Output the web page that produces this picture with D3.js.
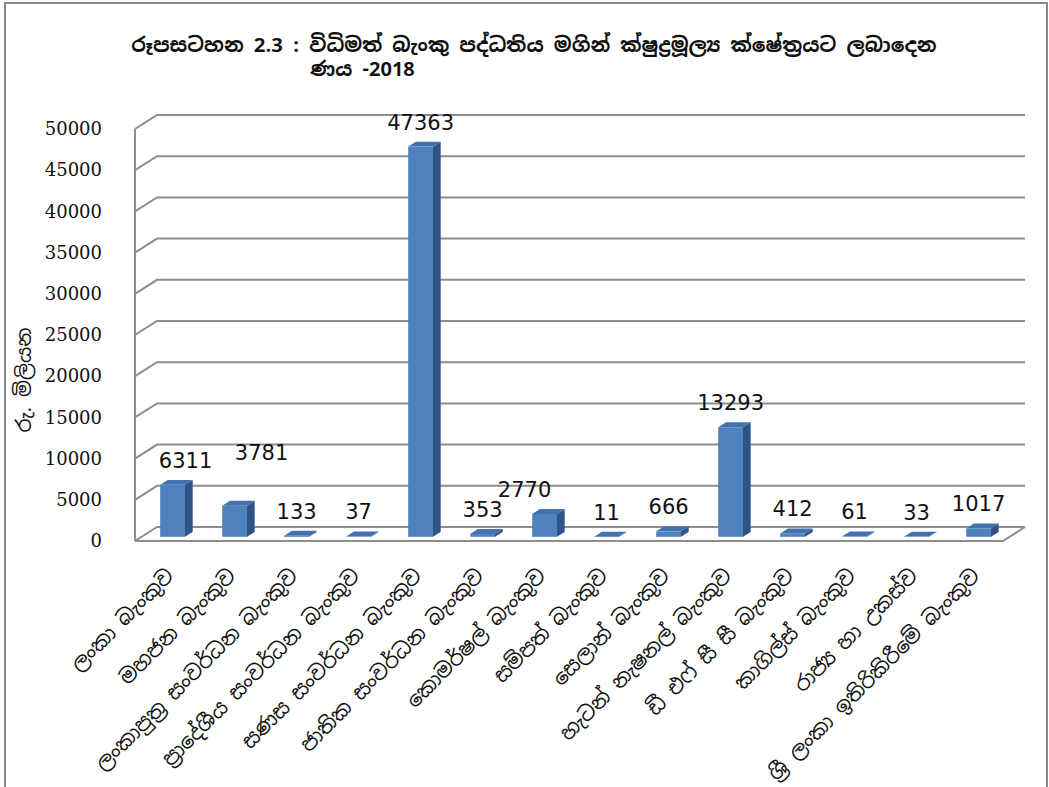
<!DOCTYPE html>
<html lang="si">
<head>
<meta charset="UTF-8">
<title>chart</title>
<script src="https://cdn.jsdelivr.net/npm/d3@7/dist/d3.min.js"></script>
<style>
  body { margin: 0; background: #fff; }
  svg { display: block; }
</style>
</head>
<body>
<script>
    // chart data
    var banks = ["ලංකා බැංකුව", "මහජන බැංකුව", "ලංකාපුත්‍ර සංවර්ධන බැංකුව",
        "ප්‍රාදේශීය සංවර්ධන බැංකුව", "සණස සංවර්ධන බැංකුව", "ජාතික සංවර්ධන බැංකුව",
        "කොමර්ෂල් බැංකුව", "සම්පත් බැංකුව", "සෙලාන් බැංකුව", "හැටන් නැෂනල් බැංකුව",
        "ඩී එෆ් සී සී බැංකුව", "කාගිල්ස් බැංකුව", "රාජ්‍ය හා උකස්ව",
        "ශ්‍රී ලංකා ඉතිරිකිරීමේ බැංකුව"];
    var loans = [6311, 3781, 133, 37, 47363, 353, 2770, 11, 666, 13293, 412, 61, 33, 1017];
    var yTicks = [0, 5000, 10000, 15000, 20000, 25000, 30000, 35000, 40000, 45000, 50000];
    var titleLines = ["රූපසටහන 2.3 : විධිමත් බැංකු පද්ධතිය මගින් ක්ෂුද්‍රමූල්‍ය ක්ෂේත්‍රයට ලබාදෙන", "ණය -2018"];
    var yTitle = "රු. මිලියන";

    var sinhala = "'Iskoola Pota', 'Noto Sans Sinhala', 'Noto Serif Sinhala', 'DejaVu Sans', sans-serif";
    var W = 1049, H = 787;
    var depthX = 22, depthY = -14;   // 3d depth of the floor
    var f0 = 0.3, f1 = 0.65;         // bar front / back depth fraction

    var svg = d3.select("body").append("svg")
        .attr("width", W)
        .attr("height", H);

    // outer frame
    svg.append("rect")
        .attr("x", 5).attr("y", 3)
        .attr("width", 1042).attr("height", 800)
        .attr("fill", "none")
        .attr("stroke", "#8a8a8a")
        .attr("stroke-width", 2);

    var x = d3.scaleBand()
        .domain(banks)
        .range([135, 1003])
        .paddingInner(0.6)
        .paddingOuter(0.3);

    var y = d3.scaleLinear()
        .domain([0, 50000])
        .range([541, 129]);

    var grid = svg.append("g")
        .attr("stroke", "#8e8e8e")
        .attr("stroke-width", 2)
        .attr("fill", "none");

    // side wall + back wall gridlines
    grid.selectAll("path.grid")
        .data(yTicks)
        .enter()
        .append("path")
        .attr("class", "grid")
        .attr("d", function (d) {
            return "M" + x.range()[0] + "," + y(d) +
                "L" + (x.range()[0] + depthX) + "," + (y(d) + depthY) +
                "H" + (x.range()[1] + depthX);
        });

    // left vertical edge
    grid.append("path")
        .attr("d", "M" + x.range()[0] + "," + y(0) + "V" + y(50000));

    // floor
    grid.append("path")
        .attr("d", "M" + x.range()[0] + "," + y(0) +
            "H" + x.range()[1] +
            "L" + (x.range()[1] + depthX) + "," + (y(0) + depthY));

    // bars
    var bw = x.bandwidth();
    var ox = depthX * f0, oy = depthY * f0;
    var sx = depthX * (f1 - f0), sy = depthY * (f1 - f0);

    var bars = svg.selectAll("g.bar")
        .data(loans)
        .enter()
        .append("g")
        .attr("class", "bar")
        .attr("transform", function (d, i) {
            return "translate(" + (x(banks[i]) + ox) + "," + oy + ")";
        });

    bars.append("path")   // top
        .attr("fill", "#4273b0")
        .attr("d", function (d) {
            var t = y(d);
            return "M0," + t + "L" + sx + "," + (t + sy) + "H" + (bw + sx) + "L" + bw + "," + t + "Z";
        });

    bars.append("path")   // side
        .attr("fill", "#2f5587")
        .attr("d", function (d) {
            var t = y(d), b = y(0);
            return "M" + bw + "," + t + "L" + (bw + sx) + "," + (t + sy) +
                "V" + (b + sy) + "L" + bw + "," + b + "Z";
        });

    bars.append("rect")   // front
        .attr("fill", "#4f81bd")
        .attr("x", 0)
        .attr("width", bw)
        .attr("y", function (d) { return y(d); })
        .attr("height", function (d) { return y(0) - y(d); });

    // value labels (a few were nudged by hand in the original)
    var nudge = {0: [13, 0], 1: [27, -29], 6: [-20, 0]};
    svg.selectAll("text.val")
        .data(loans)
        .enter()
        .append("text")
        .attr("class", "val")
        .attr("x", function (d, i) {
            var n = nudge[i] || [0, 0];
            return x(banks[i]) + bw / 2 + ox + n[0];
        })
        .attr("y", function (d, i) {
            var n = nudge[i] || [0, 0];
            return y(d) + oy - 17 + n[1];
        })
        .attr("text-anchor", "middle")
        .style("font-family", "'DejaVu Sans', sans-serif")
        .style("font-size", "21px")
        .attr("fill", "#111")
        .text(function (d) { return d; });

    // y axis labels
    var yAxis = d3.axisLeft(y)
        .tickValues(yTicks)
        .tickSize(0)
        .tickPadding(33)
        .tickFormat(d3.format("d"));

    var ya = svg.append("g")
        .attr("transform", "translate(" + x.range()[0] + ",0)")
        .call(yAxis);
    ya.select(".domain").remove();
    ya.selectAll("text")
        .style("font-family", "'DejaVu Serif', serif")
        .style("font-size", "18px")
        .attr("fill", "#111");

    // x axis labels
    svg.selectAll("text.cat")
        .data(banks)
        .enter()
        .append("text")
        .attr("class", "cat")
        .attr("transform", function (d) {
            return "translate(" + (x(d) + bw / 2 + 4) + ",572) rotate(-45)";
        })
        .attr("text-anchor", "end")
        .attr("dy", "0.35em")
        .style("font-family", sinhala)
        .style("font-size", "20.5px")
        .attr("fill", "#111")
        .text(function (d) { return d; });

    // y title
    svg.append("text")
        .attr("transform", "translate(31,380) rotate(-90)")
        .attr("text-anchor", "middle")
        .style("font-family", sinhala)
        .style("font-size", "20px")
        .attr("fill", "#111")
        .text(yTitle);

    // title
    svg.append("text")
        .attr("x", 534).attr("y", 52)
        .attr("text-anchor", "middle")
        .style("font-family", sinhala)
        .style("font-size", "20.3px")
        .style("font-weight", "bold")
        .attr("fill", "#111")
        .text(titleLines[0]);
    svg.append("text")
        .attr("x", 310).attr("y", 76)
        .style("font-family", sinhala)
        .style("font-size", "20px")
        .style("font-weight", "bold")
        .attr("fill", "#111")
        .text(titleLines[1]);
</script>
</body>
</html>
